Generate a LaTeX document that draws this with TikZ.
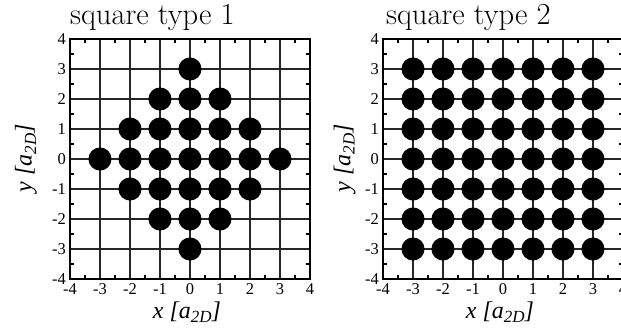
\documentclass[tikz,border=0pt]{standalone}
\usepackage{fontspec}
\newfontfamily\plotfont{Liberation Serif}
\usetikzlibrary{positioning,calc}
\tikzset{
  frame/.style={draw=black,line width=2pt},
  gridline/.style={draw=black!85,line width=1.1pt},
  tickmark/.style={draw=black,line width=1.1pt},
  atom/.style={fill=black},
  ticklbl/.style={font=\plotfont\fontsize{16.5}{16.5}\selectfont,inner sep=1pt},
  axlbl/.style={font=\plotfont\itshape\fontsize{24}{24}\selectfont,inner sep=1pt},
  paneltitle/.style={font=\fontsize{30.5}{30.5}\selectfont,inner sep=0pt},
}
\newcommand{\unitlbl}[1]{#1 [a\raisebox{-0.4ex}{\fontsize{17}{17}\selectfont 2D}]}

\begin{document}
\begin{tikzpicture}[x=30pt,y=30pt]
  \useasboundingbox (-6.333,-5.8) rectangle (14.367,5.3);
  % left panel
  \begin{scope}
    \foreach \i in {-3,...,3} {
      \draw[gridline] (\i,-4)--(\i,4);
      \draw[gridline] (-4,\i)--(4,\i);
    }
    \foreach \i in {-3.5,-2.5,...,3.5} {
      \draw[tickmark] (\i,-4)--++(0,0.13);
      \draw[tickmark] (\i,4)--++(0,-0.13);
      \draw[tickmark] (-4,\i)--++(0.13,0);
      \draw[tickmark] (4,\i)--++(-0.13,0);
    }
    \draw[frame] (-4,-4) rectangle (4,4);
    \foreach \x in {-3,...,3}
      \foreach \y in {-3,...,3} {
        \pgfmathtruncatemacro\d{abs(\x)+abs(\y)}
        \ifnum\d<4 \fill[atom] (\x,\y) circle (0.385); \fi
      }
    \foreach \v [count=\k] in {-4,...,4} {
      \node[ticklbl,anchor=north] (lxt\k) at (\v,-4.1) {\v};
      \node[ticklbl,anchor=east] (lyt\k) at (-4.1,\v) {\v};
    }
    \node[paneltitle,anchor=base west] (ltitle) at (-4.0,4.47) {square type 1};
    \node[axlbl,anchor=base] (lxlabel) at (-0.1,-5.3) {\unitlbl{x}};
    \node[axlbl,rotate=90] (lylabel) at (-5.47,0.03) {\unitlbl{y}};
  \end{scope}
  % right panel
  \begin{scope}[xshift=313pt]
    \foreach \i in {-3,...,3} {
      \draw[gridline] (\i,-4)--(\i,4);
      \draw[gridline] (-4,\i)--(4,\i);
    }
    \foreach \i in {-3.5,-2.5,...,3.5} {
      \draw[tickmark] (\i,-4)--++(0,0.13);
      \draw[tickmark] (\i,4)--++(0,-0.13);
      \draw[tickmark] (-4,\i)--++(0.13,0);
      \draw[tickmark] (4,\i)--++(-0.13,0);
    }
    \draw[frame] (-4,-4) rectangle (4,4);
    \foreach \x in {-3,...,3}
      \foreach \y in {-3,...,3}
        \fill[atom] (\x,\y) circle (0.385);
    \foreach \v [count=\k] in {-4,...,4} {
      \node[ticklbl,anchor=north] (rxt\k) at (\v,-4.1) {\v};
      \node[ticklbl,anchor=east] (ryt\k) at (-4.1,\v) {\v};
    }
    \node[paneltitle,anchor=base west] (rtitle) at (-3.9,4.47) {square type 2};
    \node[axlbl,anchor=base] (rxlabel) at (-0.1,-5.3) {\unitlbl{x}};
    \node[axlbl,rotate=90] (rylabel) at (-5.28,0.03) {\unitlbl{y}};
  \end{scope}
\end{tikzpicture}
\end{document}
